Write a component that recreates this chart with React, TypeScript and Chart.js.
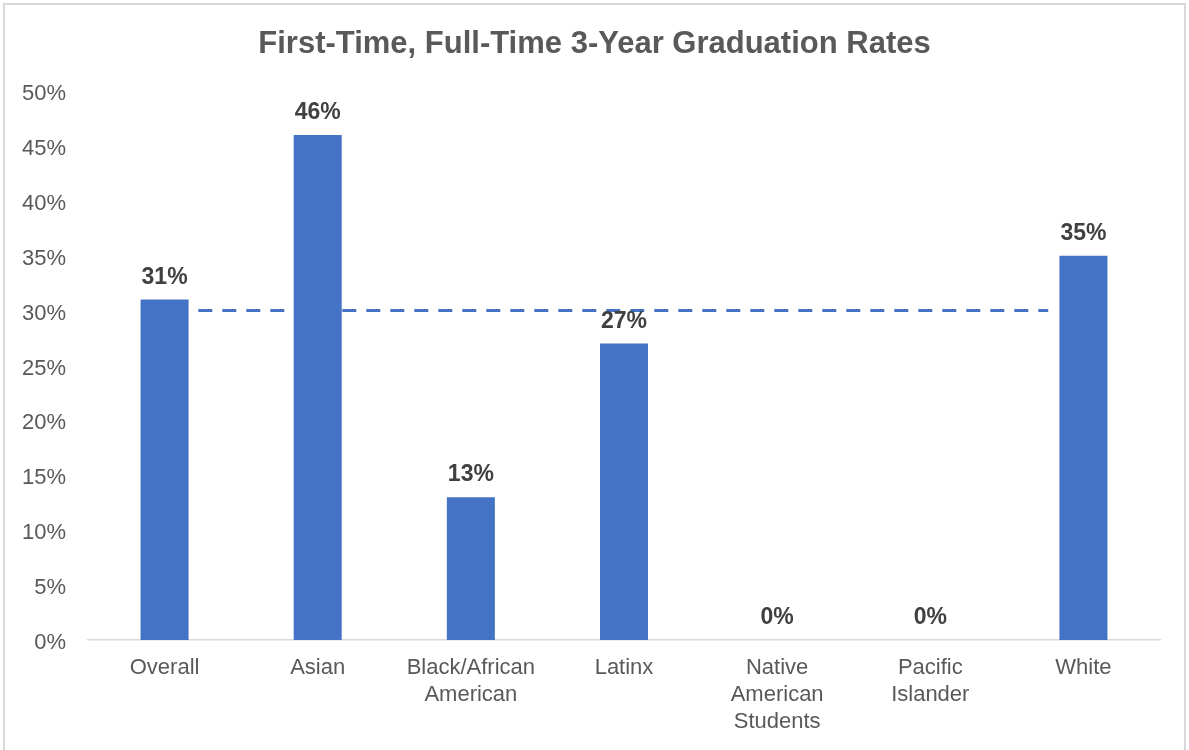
import React, { useEffect, useRef } from "react";
import { Chart, registerables } from "chart.js";

Chart.register(...registerables);

const categories: (string | string[])[] = [
  "Overall",
  "Asian",
  ["Black/African", "American"],
  "Latinx",
  ["Native", "American", "Students"],
  ["Pacific", "Islander"],
  "White",
];
const rates = [31, 46, 13, 27, 0, 0, 35];
const benchmarkX = [0.22, 5.77];
const benchmarkY = [30, 30];
const yTicks = [0, 5, 10, 15, 20, 25, 30, 35, 40, 45, 50];
const titleText = "First-Time, Full-Time 3-Year Graduation Rates";

const FONT = "'Liberation Sans', Arial, sans-serif";
const BLUE = "#4472C4";

const labelPlugin = {
  id: "barValueLabels",
  afterDatasetsDraw(chart: any) {
    const ctx = chart.ctx;
    const meta = chart.getDatasetMeta(0);
    ctx.save();
    ctx.font = `bold 23px ${FONT}`;
    ctx.fillStyle = "#404040";
    ctx.textAlign = "center";
    ctx.textBaseline = "alphabetic";
    meta.data.forEach((el: any, i: number) => {
      ctx.fillText(`${rates[i]}%`, el.x, el.y - 16);
    });
    ctx.restore();
  },
};

const titlePlugin = {
  id: "centeredTitle",
  afterDraw(chart: any) {
    const ctx = chart.ctx;
    ctx.save();
    ctx.font = `bold 31px ${FONT}`;
    ctx.fillStyle = "#595959";
    ctx.textAlign = "center";
    ctx.textBaseline = "alphabetic";
    ctx.fillText(titleText, chart.width / 2, 53);
    ctx.restore();
  },
};

export default function App() {
  const ref = useRef<HTMLCanvasElement>(null);
  useEffect(() => {
    if (!ref.current) return;
    const chart = new Chart(ref.current, {
      type: "bar",
      data: {
        labels: categories as any,
        datasets: [
          {
            type: "bar",
            data: rates,
            backgroundColor: BLUE,
            borderWidth: 0,
            grouped: false,
            categoryPercentage: 1,
            barPercentage: 0.3135,
            order: 1,
            xAxisID: "x",
          } as any,
          {
            type: "line",
            data: benchmarkX.map((x, i) => ({ x, y: benchmarkY[i] })),
            borderColor: BLUE,
            borderWidth: 3,
            borderDash: [14, 10],
            pointRadius: 0,
            fill: false,
            order: 2,
            xAxisID: "xLine",
          } as any,
        ],
      },
      options: {
        animation: false,
        responsive: false,
        maintainAspectRatio: false,
        layout: { padding: { left: 0, right: 29, top: 91, bottom: 0 } },
        plugins: {
          legend: { display: false },
          tooltip: { enabled: false },
          title: { display: false },
        },
        scales: {
          x: {
            type: "category",
            offset: true,
            grid: { display: false, drawTicks: false },
            border: { display: true, color: "#d9d9d9", width: 1.5 },
            ticks: {
              color: "#595959",
              font: { family: FONT, size: 22, lineHeight: 1.22 },
              padding: 15,
              maxRotation: 0,
              autoSkip: false,
            },
            afterFit(scale: any) {
              scale.height = 110;
            },
          },
          xLine: {
            type: "linear",
            display: false,
            offset: false,
            min: -0.5,
            max: 6.5,
            grid: { offset: false },
          },
          y: {
            type: "linear",
            min: 0,
            max: 50,
            grid: { display: false, drawTicks: false },
            border: { display: false },
            afterBuildTicks(scale: any) {
              scale.ticks = yTicks.map((v) => ({ value: v }));
            },
            ticks: {
              color: "#595959",
              font: { family: FONT, size: 22 },
              padding: 22,
              labelOffset: 3,
              callback: (v: any) => `${v}%`,
            },
            afterFit(scale: any) {
              scale.width = 88;
            },
          },
        },
      },
      plugins: [labelPlugin, titlePlugin],
    });
    return () => chart.destroy();
  }, []);

  return (
    <div style={{ position: "fixed", left: 0, top: 0, width: 1189, height: 750, background: "#fff", overflow: "hidden" }}>
      <div
        style={{
          position: "absolute",
          left: 3,
          top: 3,
          width: 1183,
          height: 800,
          border: "2px solid #d9d9d9",
          boxSizing: "border-box",
        }}
      />
      <canvas ref={ref} width={1189} height={750} style={{ position: "absolute", left: 0, top: 0 }} />
    </div>
  );
}
